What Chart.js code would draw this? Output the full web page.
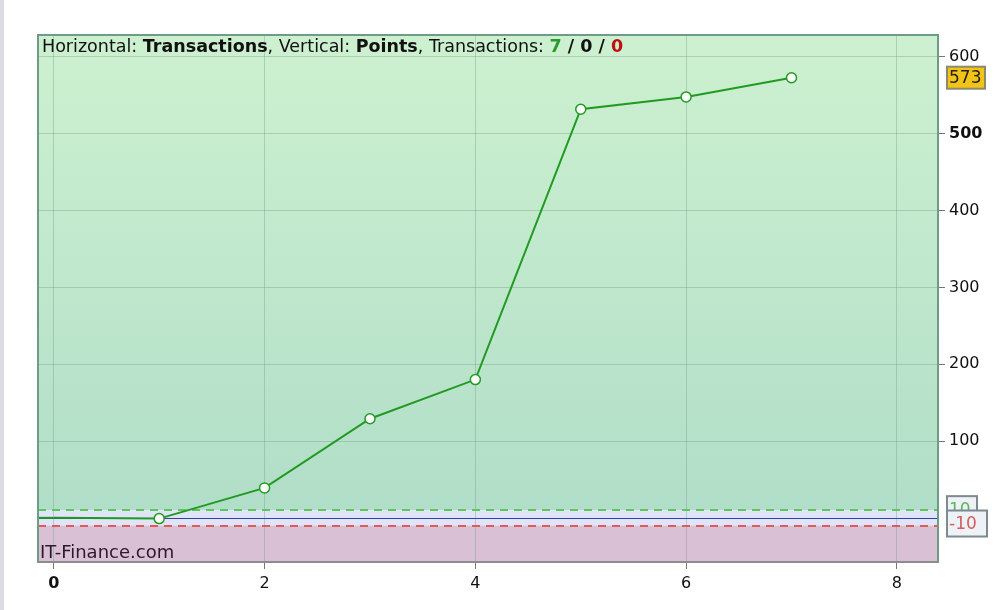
<!DOCTYPE html>
<html>
<head>
<meta charset="utf-8">
<script src="https://cdn.jsdelivr.net/npm/chart.js@4/dist/chart.umd.min.js"></script>
<style>
  html, body { margin: 0; padding: 0; background: #fff; }
  #wrap { width: 997px; height: 610px; }
</style>
</head>
<body>
<div id="wrap"><canvas id="myChart" width="997" height="610"></canvas></div>
<script>
// -- data
var txNumbers = [0, 1, 2, 3, 4, 5, 6, 7];
var txPoints = [0, -1, 39, 129, 180, 532, 548, 573];
var yTicks = [100, 200, 300, 400, 500, 600];
var xTicks = [0, 2, 4, 6, 8];
var upperLevel = 10;
var lowerLevel = -10;
var lastValue = 573;

var FONT = "'DejaVu Sans', Verdana, sans-serif";

var bandsPlugin = {
  id: 'bands',
  beforeDraw: function(chart) {
    var ctx = chart.ctx, a = chart.chartArea, y = chart.scales.y;
    ctx.save();
    ctx.fillStyle = '#dcdce2';
    ctx.fillRect(0, 0, 4, chart.height);
    var yUp = y.getPixelForValue(upperLevel);
    var yLo = y.getPixelForValue(lowerLevel);
    var g = ctx.createLinearGradient(0, a.top, 0, yUp);
    g.addColorStop(0, '#cdf1d0');
    g.addColorStop(1, '#b1dec8');
    ctx.fillStyle = g;
    ctx.fillRect(a.left, a.top, a.right - a.left, yUp - a.top);
    ctx.fillStyle = '#dfe4f6';
    ctx.fillRect(a.left, yUp, a.right - a.left, yLo - yUp);
    ctx.fillStyle = '#dac0d4';
    ctx.fillRect(a.left, yLo, a.right - a.left, a.bottom - yLo);
    ctx.restore();
  },
  beforeDatasetsDraw: function(chart) {
    var ctx = chart.ctx, a = chart.chartArea, y = chart.scales.y;
    ctx.save();
    ctx.lineWidth = 2;
    ctx.setLineDash([8, 6]);
    ctx.strokeStyle = '#5cc85c';
    var p = Math.round(y.getPixelForValue(upperLevel));
    ctx.beginPath(); ctx.moveTo(a.left, p); ctx.lineTo(a.right, p); ctx.stroke();
    ctx.strokeStyle = '#e05a5a';
    p = Math.round(y.getPixelForValue(lowerLevel));
    ctx.beginPath(); ctx.moveTo(a.left, p); ctx.lineTo(a.right, p); ctx.stroke();
    ctx.setLineDash([]);
    ctx.lineWidth = 1;
    ctx.strokeStyle = '#3040b0';
    p = Math.round(y.getPixelForValue(0)) + 0.5;
    ctx.beginPath(); ctx.moveTo(a.left, p); ctx.lineTo(a.right, p); ctx.stroke();
    // flat start of the curve from the left edge
    ctx.lineWidth = 2;
    ctx.strokeStyle = '#219a21';
    p = y.getPixelForValue(txPoints[0]);
    ctx.beginPath(); ctx.moveTo(a.left, p); ctx.lineTo(chart.scales.x.getPixelForValue(txNumbers[0]), p); ctx.stroke();
    ctx.restore();
  },
  afterDraw: function(chart) {
    var ctx = chart.ctx, a = chart.chartArea, y = chart.scales.y;
    ctx.save();
    // frame
    ctx.lineWidth = 2;
    ctx.strokeStyle = '#6f9c86';
    ctx.beginPath();
    ctx.moveTo(a.left, a.bottom); ctx.lineTo(a.left, a.top);
    ctx.lineTo(a.right, a.top); ctx.lineTo(a.right, a.bottom);
    ctx.stroke();
    ctx.strokeStyle = '#8c8c8c';
    ctx.beginPath(); ctx.moveTo(a.left - 1, a.bottom); ctx.lineTo(a.right + 1, a.bottom); ctx.stroke();

    // header
    var parts = [
      ['Horizontal: ', 'normal', '#111'],
      ['Transactions', 'bold', '#111'],
      [', Vertical: ', 'normal', '#111'],
      ['Points', 'bold', '#111'],
      [', Transactions: ', 'normal', '#111'],
      ['7', 'bold', '#2a9a2a'],
      [' / ', 'bold', '#111'],
      ['0', 'bold', '#111'],
      [' / ', 'bold', '#111'],
      ['0', 'bold', '#c01010']
    ];
    var x = a.left + 4;
    ctx.textBaseline = 'alphabetic';
    ctx.textAlign = 'left';
    parts.forEach(function(pt) {
      ctx.font = pt[1] + ' 17.5px ' + FONT;
      ctx.fillStyle = pt[2];
      ctx.fillText(pt[0], x, a.top + 17);
      x += ctx.measureText(pt[0]).width;
    });

    ctx.font = '18px ' + FONT;
    ctx.fillStyle = '#2a1a2a';
    ctx.fillText('IT-Finance.com', a.left + 2, a.bottom - 4);

    // value tags on the right
    function tag(top, text, fill, stroke, color, w, h) {
      ctx.font = '17px ' + FONT;
      ctx.fillStyle = fill;
      ctx.fillRect(a.right + 9, top, w, h);
      ctx.lineWidth = 2;
      ctx.strokeStyle = stroke;
      ctx.strokeRect(a.right + 9, top, w, h);
      ctx.fillStyle = color;
      ctx.textBaseline = 'middle';
      ctx.fillText(text, a.right + 11, top + h / 2 + 1);
    }
    var yUp = y.getPixelForValue(upperLevel), yLo = y.getPixelForValue(lowerLevel);
    tag(yUp - 14, String(upperLevel), '#eef1f6', '#7d8a90', '#5cb85c', 30, 26);
    tag(yLo - 15, String(lowerLevel), '#eef1f6', '#7d8a90', '#d06060', 40, 26);
    tag(y.getPixelForValue(lastValue) - 11, String(lastValue), '#f4c414', '#8a8a70', '#222', 38, 22);
    ctx.restore();
  }
};

var ctx2 = document.getElementById('myChart');

var myChart = new Chart(ctx2, {
  type: 'line',
  data: {
    datasets: [{
      data: txNumbers.map(function(n, i) { return { x: n, y: txPoints[i] }; }),
      borderColor: '#219a21',
      borderWidth: 2,
      backgroundColor: '#ffffff',
      pointBackgroundColor: '#ffffff',
      pointBorderColor: '#219a21',
      pointBorderWidth: 1.5,
      pointRadius: txNumbers.map(function(n) { return n === 0 ? 0 : 5; }),
      tension: 0
    }]
  },
  plugins: [bandsPlugin],
  options: {
    responsive: false,
    animation: false,
    events: [],
    layout: { padding: { top: 35, left: 38, right: 0, bottom: 0 } },
    plugins: { legend: { display: false }, tooltip: { enabled: false } },
    scales: {
      x: {
        type: 'linear',
        min: -0.15,
        max: 8.39,
        afterBuildTicks: function(s) { s.ticks = xTicks.map(function(v) { return { value: v }; }); },
        afterFit: function(s) { s.height = 48; },
        border: { display: false },
        grid: { color: 'rgba(110,150,125,0.35)', tickColor: '#777', tickLength: 7, lineWidth: 1 },
        ticks: {
          color: '#111',
          padding: 5,
          font: function(c) { return { family: FONT, size: 16, weight: c.tick && c.tick.value === 0 ? 'bold' : 'normal' }; }
        }
      },
      y: {
        position: 'right',
        min: -57.5,
        max: 628.6,
        afterBuildTicks: function(s) { s.ticks = yTicks.map(function(v) { return { value: v }; }); },
        afterFit: function(s) { s.width = 59; },
        border: { display: false },
        grid: { color: 'rgba(110,150,125,0.35)', tickColor: '#777', tickLength: 7, lineWidth: 1 },
        ticks: {
          color: '#111',
          padding: 4,
          font: function(c) { return { family: FONT, size: 16, weight: c.tick && c.tick.value === 500 ? 'bold' : 'normal' }; }
        }
      }
    }
  }
});
</script>
</body>
</html>
